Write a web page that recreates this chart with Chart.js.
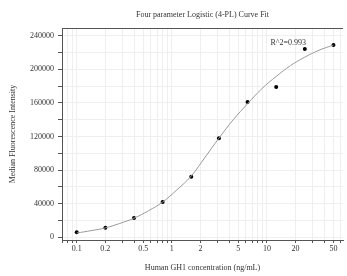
<!DOCTYPE html>
<html>
<head>
<meta charset="utf-8">
<script src="https://cdn.jsdelivr.net/npm/chart.js@4"></script>
<style>
  html, body { margin: 0; padding: 0; background: #fff; }
  canvas { display: block; }
</style>
</head>
<body>
<canvas id="c" width="347" height="276"></canvas>
<script>
// measured standards
const conc = [0.1, 0.2, 0.4, 0.8, 1.6, 3.125, 6.25, 12.5, 25, 50];
const mfi = [6000, 11400, 23000, 42000, 72100, 117900, 161000, 178900, 224200, 228900];

// fitted curve
const fitX = [0.1, 0.141, 0.2, 0.283, 0.4, 0.566, 0.8, 1.13, 1.6, 2.24, 3.125, 4.42, 6.25, 8.84, 12.5, 17.7, 25, 35.4, 50];
const fitY = [5100, 7900, 11200, 16500, 22800, 31500, 42000, 56500, 73000, 95500, 118000, 140000, 159000, 177000, 191500, 204500, 214500, 222800, 228900];

const xTickLabels = [0.1, 0.2, 0.5, 1, 2, 5, 10, 20, 50];
const yTickLabels = [0, 40000, 80000, 120000, 160000, 200000, 240000];

const titleText = 'Four parameter Logistic (4-PL) Curve Fit';
const fitNote = 'R^2=0.993';

const SERIF = "'Liberation Serif', 'DejaVu Serif', serif";
const TEXT = '#333';
const GRID = '#efefef';
const AXIS = '#555';

// all log minor positions 0.07 .. 60
const xMinor = [];
[0.01, 0.1, 1, 10].forEach(dec => {
  for (let m = 1; m <= 9; m++) {
    const v = +(m * dec).toPrecision(3);
    if (v >= 0.07 && v <= 60) xMinor.push(v);
  }
});
const yMinor = [];
for (let v = 0; v <= 240000; v += 20000) yMinor.push(v);

const extras = {
  id: 'extras',
  afterDraw(chart) {
    const { ctx, chartArea: { left, right, top } } = chart;
    ctx.save();
    // top frame line
    ctx.strokeStyle = AXIS;
    ctx.lineWidth = 1;
    ctx.beginPath();
    ctx.moveTo(left, top + 0.5);
    ctx.lineTo(right, top + 0.5);
    ctx.stroke();
    ctx.fillStyle = TEXT;
    ctx.font = '8px ' + SERIF;
    ctx.textBaseline = 'middle';
    ctx.textAlign = 'center';
    ctx.fillText(titleText, (left + right) / 2, 15);
    ctx.textAlign = 'left';
    ctx.fillText(fitNote, 270.5, 43);
    ctx.restore();
  }
};

new Chart(document.getElementById('c'), {
  type: 'scatter',
  data: {
    datasets: [
      {
        label: 'fit',
        data: fitX.map((x, i) => ({ x, y: fitY[i] })),
        showLine: true,
        borderColor: '#9a9a9a',
        borderWidth: 1,
        pointRadius: 0,
        tension: 0.4,
      },
      {
        label: 'standards',
        data: conc.map((x, i) => ({ x, y: mfi[i] })),
        backgroundColor: '#000',
        borderColor: '#000',
        pointRadius: 2,
        pointBorderWidth: 0,
      },
    ],
  },
  options: {
    responsive: false,
    devicePixelRatio: 1,
    animation: false,
    layout: { padding: { top: 28, right: 0, left: 0, bottom: 0 } },
    plugins: { legend: { display: false }, tooltip: { enabled: false } },
    scales: {
      x: {
        type: 'logarithmic',
        min: 0.07,
        max: 63,
        afterBuildTicks: s => { s.ticks = xMinor.map(v => ({ value: v })); },
        afterFit: s => { s.height = 36; },
        ticks: {
          autoSkip: false,
          maxRotation: 0,
          padding: 1,
          color: TEXT,
          font: { family: SERIF, size: 8 },
          callback: v => xTickLabels.includes(+(+v).toPrecision(3)) ? String(+(+v).toPrecision(3)) : '',
        },
        grid: { color: GRID, tickColor: AXIS, tickLength: 3 },
        border: { color: AXIS, width: 1 },
        title: {
          display: true,
          text: 'Human GH1 concentration (ng/mL)',
          color: TEXT,
          font: { family: SERIF, size: 8 },
          padding: { top: 0, bottom: 3.5 },
        },
      },
      y: {
        min: -3200,
        max: 249200,
        afterBuildTicks: s => { s.ticks = yMinor.map(v => ({ value: v })); },
        afterFit: s => { s.width = 62; },
        ticks: {
          autoSkip: false,
          padding: 4,
          color: TEXT,
          font: { family: SERIF, size: 8 },
          callback: v => yTickLabels.includes(v) ? String(v) : '',
        },
        grid: { color: GRID, tickColor: AXIS, tickLength: 4 },
        border: { color: AXIS, width: 1 },
        title: {
          display: true,
          text: 'Median Fluorescence Intensity',
          color: TEXT,
          font: { family: SERIF, size: 8 },
          padding: { top: 8.5, bottom: 0 },
        },
      },
    },
  },
  plugins: [extras],
});
</script>
</body>
</html>
